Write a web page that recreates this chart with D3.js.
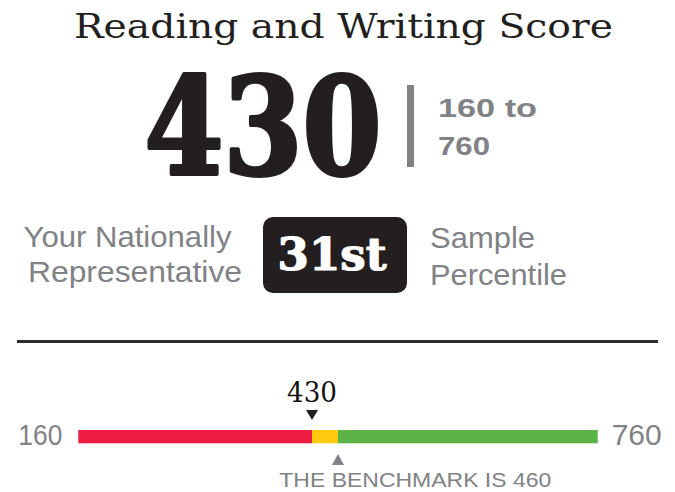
<!DOCTYPE html>
<html>
<head>
<meta charset="utf-8">
<script src="https://cdn.jsdelivr.net/npm/d3@7"></script>
<style>
  html, body { margin: 0; padding: 0; background: #fff; }
  svg { display: block; }
</style>
</head>
<body>
<div id="chart"></div>
<script>
// ---- data ----
const title = "Reading and Writing Score";
const score = 430;
const scoreMin = 160;
const scoreMax = 760;
const benchmark = 460;
const percentileLabel = "31st";
const rangeLines = ["160 to", "760"];
const leftLines = ["Your Nationally", "Representative"];
const rightLines = ["Sample", "Percentile"];
const bandStarts = [160, 430, 460];
const bandEnds = [430, 460, 760];
const benchmarkLabel = "THE BENCHMARK IS " + benchmark;

// ---- styles ----
const bandColors = ["#ee1b43", "#ffc90e", "#5cb447"];
const gray = "#808285";
const dark = "#231f20";
const W = 675, H = 492;
const serif = "'DejaVu Serif', serif";
const sans = "'Liberation Sans', Arial, sans-serif";

const svg = d3.select("#chart").append("svg").attr("width", W).attr("height", H);

function txt(s, x, y, size, opts) {
  const t = svg.append("text")
    .attr("x", x).attr("y", y)
    .attr("font-size", size)
    .attr("font-family", opts.font || sans)
    .attr("font-weight", opts.weight || "normal")
    .attr("fill", opts.fill || dark)
    .attr("text-anchor", opts.anchor || "start")
    .text(s);
  if (opts.len) t.attr("textLength", opts.len).attr("lengthAdjust", "spacingAndGlyphs");
  if (opts.stroke) t.attr("stroke", opts.fill || dark).attr("stroke-width", opts.stroke).attr("stroke-linejoin", "round");
  return t;
}

// Title
txt(title, 74, 38, 34, { font: serif, len: 539, fill: "#231f20" });

// Big score
txt(String(score), 144.5, 173.5, 134, { font: serif, weight: "bold", len: 237, stroke: 4 });

// Divider bar
svg.append("rect").attr("x", 407).attr("y", 85).attr("width", 7).attr("height", 82).attr("fill", gray);

// Range text
txt(rangeLines[0], 438, 117, 26.5, { weight: "bold", fill: gray, len: 99 });
txt(rangeLines[1], 438, 155, 26.5, { weight: "bold", fill: gray, len: 52 });

// Percentile row
txt(leftLines[0], 23.5, 247, 29, { fill: gray, len: 208 });
txt(leftLines[1], 28, 282, 29, { fill: gray, len: 214 });
svg.append("rect").attr("x", 263).attr("y", 217).attr("width", 144).attr("height", 76)
  .attr("rx", 10).attr("ry", 10).attr("fill", dark);
txt(percentileLabel, 277.5, 269.5, 44, { font: serif, weight: "bold", fill: "#fff", len: 109, stroke: 1.2 });
txt(rightLines[0], 430, 248, 29, { fill: gray, len: 105 });
txt(rightLines[1], 430, 285, 29, { fill: gray, len: 137 });

// Separator
svg.append("line").attr("x1", 17).attr("x2", 658).attr("y1", 341.5).attr("y2", 341.5)
  .attr("stroke", "#2b2b2b").attr("stroke-width", 3);

// Scale bar
const x = d3.scaleLinear().domain([scoreMin, scoreMax]).range([78.3, 597.7]);
const barTop = 430, barH = 13.3;
svg.selectAll("rect.band").data(bandStarts).enter().append("rect")
  .attr("class", "band")
  .attr("x", d => x(d))
  .attr("y", barTop)
  .attr("width", (d, i) => x(bandEnds[i]) - x(d))
  .attr("height", barH)
  .attr("fill", (d, i) => bandColors[i]);

// End labels
txt(String(scoreMin), x(scoreMin) - 16, 445, 29, { fill: gray, anchor: "end", len: 44 });
txt(String(scoreMax), x(scoreMax) + 14, 445, 29, { fill: gray, len: 50 });

// Score marker
const sx = x(score);
txt(String(score), sx, 401.7, 27.5, { font: serif, anchor: "middle", len: 50, fill: "#111" });
svg.append("path")
  .attr("d", `M${sx - 6},410 L${sx + 6},410 L${sx},420 Z`)
  .attr("fill", dark);

// Benchmark marker
const bx = x(benchmark);
svg.append("path")
  .attr("d", `M${bx - 6},465 L${bx + 6},465 L${bx},454 Z`)
  .attr("fill", gray);
txt(benchmarkLabel, bx - 58.7, 486.7, 21, { fill: gray, len: 272 });
</script>
</body>
</html>
